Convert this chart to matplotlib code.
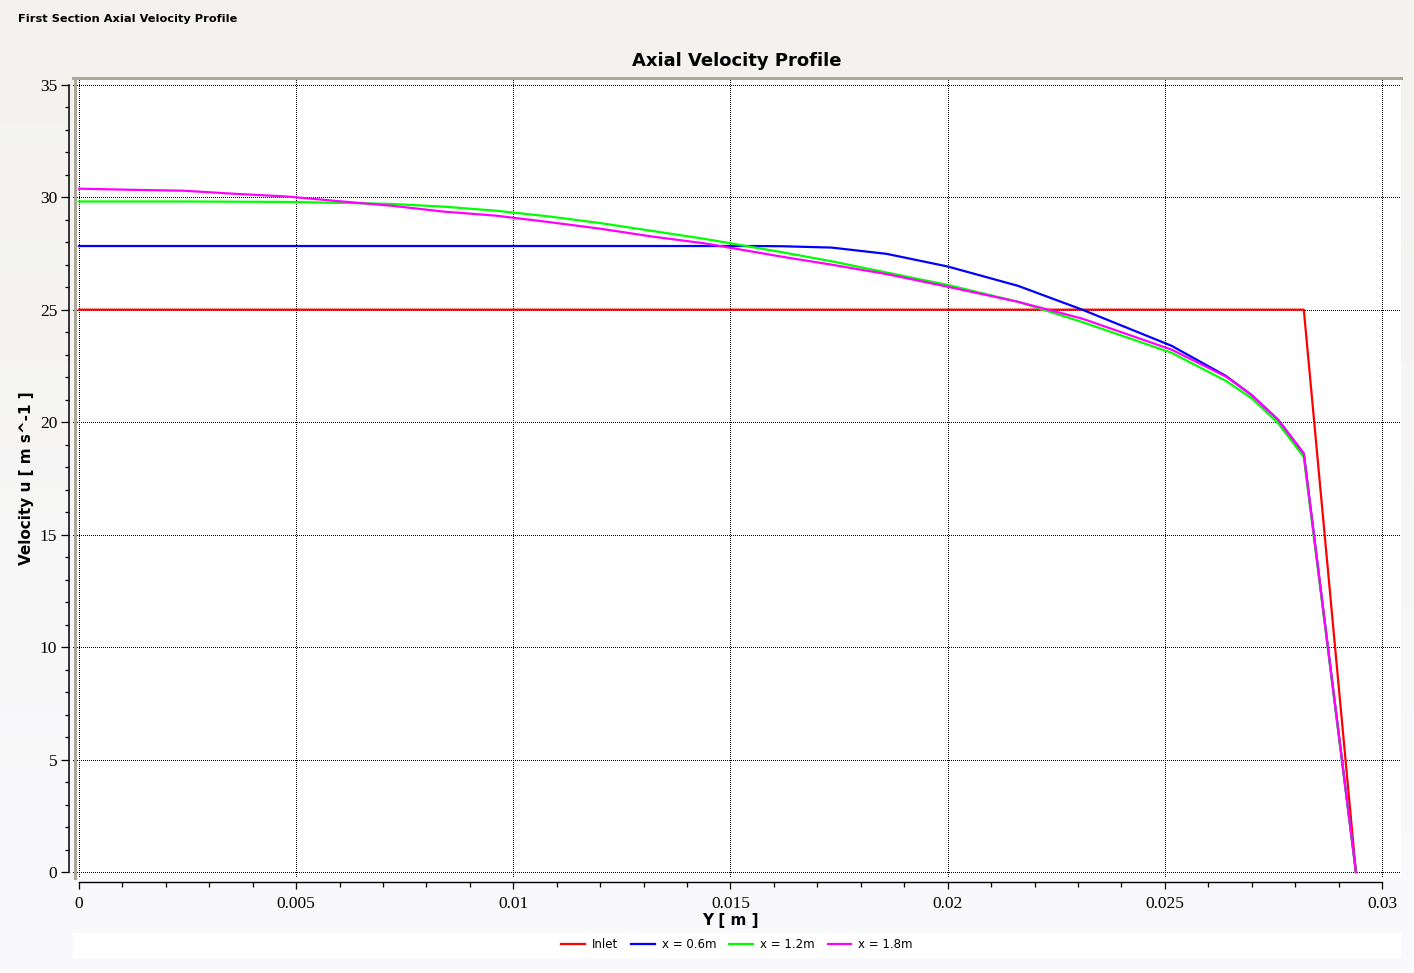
import numpy as np
import matplotlib
matplotlib.use("Agg")
import matplotlib.pyplot as plt
from matplotlib.ticker import MultipleLocator, FuncFormatter
from matplotlib.colors import LinearSegmentedColormap
from matplotlib.lines import Line2D
from matplotlib.patches import Rectangle
import matplotlib.transforms as mtrans

# radial position Y [m] (shared grid of the exported profiles)
y_pos = [0.0, 0.0012, 0.0024, 0.0036, 0.0048, 0.0060, 0.0072, 0.0084, 0.0096,
         0.0108, 0.0120, 0.0132, 0.0144, 0.0156, 0.0162, 0.01733, 0.0186,
         0.0200, 0.02162, 0.0231, 0.02516, 0.02641, 0.0270, 0.02761, 0.0282,
         0.0294]

inlet_y = [0.0, 0.0282, 0.0294]
inlet_u = [25.0, 25.0, 0.0]

u_06 = [27.83, 27.83, 27.83, 27.83, 27.83, 27.83, 27.83, 27.83, 27.83,
        27.83, 27.83, 27.83, 27.83, 27.83, 27.82, 27.76, 27.48,
        26.92, 26.06, 25.0, 23.39, 22.05, 21.2, 20.1, 18.6, 0.0]

u_12 = [29.81, 29.81, 29.81, 29.80, 29.79, 29.75, 29.70, 29.58, 29.40,
        29.15, 28.85, 28.50, 28.15, 27.75, 27.55, 27.15, 26.65,
        26.10, 25.35, 24.45, 23.08, 21.83, 21.06, 19.95, 18.45, 0.0]

u_18 = [30.38, 30.33, 30.29, 30.15, 30.03, 29.82, 29.62, 29.36, 29.18,
        28.90, 28.60, 28.25, 27.95, 27.55, 27.35, 27.00, 26.58,
        26.02, 25.35, 24.60, 23.22, 22.02, 21.20, 20.10, 18.60, 0.0]

W, H = 1414, 973

fig = plt.figure(figsize=(W / 100, H / 100), dpi=100)

# background gradient like the post-processor window
bg = fig.add_axes([0, 0, 1, 1], zorder=-10)
cmap = LinearSegmentedColormap.from_list("bg", ["#fafafd", "#f3f2ee"])
bg.imshow(np.linspace(0, 1, 256).reshape(-1, 1), aspect="auto", cmap=cmap,
          extent=[0, 1, 0, 1], origin="lower")
bg.add_patch(Rectangle((73 / W, 1 - 958 / H), (1401 - 73) / W, 25 / H,
                       color="white", lw=0))
bg.set_xlim(0, 1)
bg.set_ylim(0, 1)
bg.axis("off")

ax = fig.add_axes([73 / W, 1 - 878 / H, (1401 - 73) / W, (878 - 78) / H])
ax.set_facecolor("white")

ax.plot(inlet_y, inlet_u, color="#ff0000", lw=1.6, label="Inlet")
ax.plot(y_pos, u_06, color="#0000ff", lw=1.6, label="x = 0.6m")
ax.plot(y_pos, u_12, color="#00ff00", lw=1.6, label="x = 1.2m")
ax.plot(y_pos, u_18, color="#ff00ff", lw=1.6, label="x = 1.8m")

ax.set_xlim(-0.000138, 0.030438)
ax.set_ylim(-0.267, 35.3)

ax.xaxis.set_major_locator(MultipleLocator(0.005))
ax.xaxis.set_minor_locator(MultipleLocator(0.001))
ax.yaxis.set_major_locator(MultipleLocator(5))
ax.yaxis.set_minor_locator(MultipleLocator(1))
ax.xaxis.set_major_formatter(FuncFormatter(lambda v, p: "%g" % round(v, 6)))
ax.yaxis.set_major_formatter(FuncFormatter(lambda v, p: "%g" % round(v, 6)))

ax.grid(True, which="major", color="black", linestyle=(0, (1, 2)),
        linewidth=0.72, antialiased=False)
ax.set_axisbelow(True)

# frame: grey border on top/left, axis lines offset outside the plot area
ax.spines["right"].set_visible(False)
ax.spines["top"].set_color("#aca899")
ax.spines["top"].set_linewidth(2.2)
ax.spines["left"].set_position(("outward", 2.6))
ax.spines["bottom"].set_position(("outward", 2.6))
ax.spines["left"].set_visible(False)
ax.spines["bottom"].set_visible(False)
ax.add_line(Line2D([0.0012, 0.0012], [0, 1], transform=ax.transAxes,
                   color="#aca899", lw=2.2, clip_on=False))
off = 2.6 / 72
tx = mtrans.blended_transform_factory(ax.transData, ax.transAxes) + \
    mtrans.ScaledTranslation(0, -off, fig.dpi_scale_trans)
ty = mtrans.blended_transform_factory(ax.transAxes, ax.transData) + \
    mtrans.ScaledTranslation(-off, 0, fig.dpi_scale_trans)
ax.add_line(Line2D([0, 0.03], [0, 0], transform=tx, color="black", lw=1.0,
                   clip_on=False))
ax.add_line(Line2D([0, 0], [0, 35], transform=ty, color="black", lw=1.1,
                   clip_on=False))

ax.tick_params(axis="x", which="major", direction="out", length=5.2, width=0.9, pad=5)
ax.tick_params(axis="x", which="minor", direction="out", length=3.4, width=0.9)
ax.tick_params(axis="y", which="major", direction="out", length=5.8, width=0.9, pad=3)
ax.tick_params(axis="y", which="minor", direction="out", length=2.6, width=0.9)
for lab in ax.get_xticklabels() + ax.get_yticklabels():
    lab.set_fontfamily("Liberation Serif")
    lab.set_fontsize(12.5)

fig.text(18 / W, 1 - 19 / H, "First Section Axial Velocity Profile",
         ha="left", va="center", fontsize=8.2, fontweight="bold")
fig.text(737 / W, 1 - 61 / H, "Axial Velocity Profile", ha="center", va="center",
         fontsize=13, fontweight="bold")
fig.text(730 / W, 1 - 921 / H, "Y [ m ]", ha="center", va="center",
         fontsize=11, fontweight="bold")
fig.text(27 / W, 1 - 478 / H, "Velocity u [ m s^-1 ]", ha="center", va="center",
         rotation=90, fontsize=11, fontweight="bold")

fig.legend(loc="center", bbox_to_anchor=(737 / W, 1 - 945 / H), ncol=4,
           frameon=False, fontsize=8.5, handlelength=2.0, handletextpad=0.6,
           columnspacing=1.1, borderaxespad=0)

fig.savefig("out.png", dpi=100)
